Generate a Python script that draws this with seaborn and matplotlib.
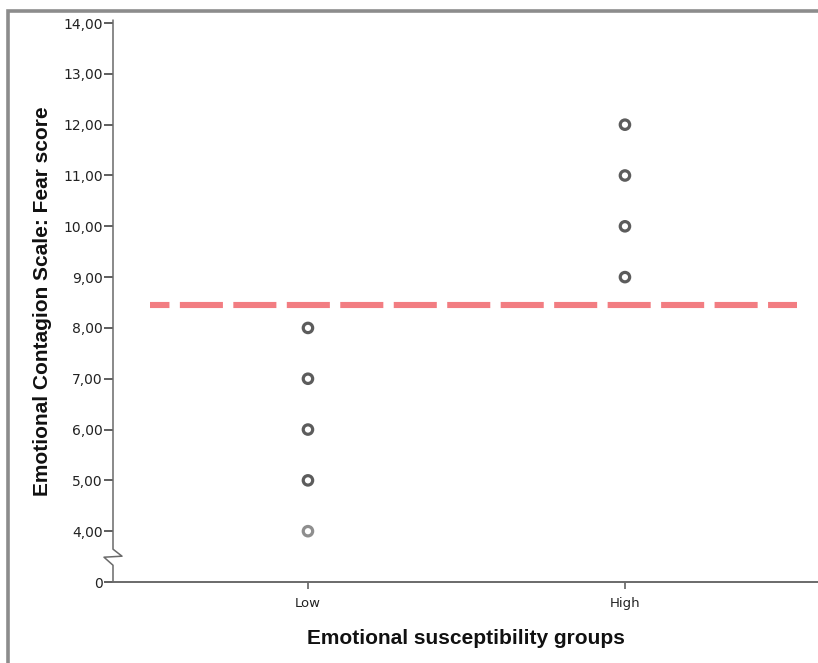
import matplotlib
matplotlib.use("Agg")
import matplotlib.pyplot as plt
import matplotlib.transforms as mtransforms
from matplotlib.patches import Rectangle
import numpy as np
import pandas as pd
import seaborn as sns

# Group labels and observed fear scores
groups = ["Low", "High"]
low_scores = [4, 5, 6, 7, 8]
high_scores = [9, 10, 11, 12]
# marker shade per point (lighter where fewer cases overlap)
low_shades = ["light", "dark", "dark", "dark", "dark"]
high_shades = ["dark", "dark", "dark", "dark"]
# cut-off between the groups
cutoff = 8.45

# y-axis ticks; the "0" tick sits just below 4 behind an axis break
ytick_values = [4, 5, 6, 7, 8, 9, 10, 11, 12, 13, 14]
ytick_labels = ["4,00", "5,00", "6,00", "7,00", "8,00", "9,00",
                "10,00", "11,00", "12,00", "13,00", "14,00"]
zero_pos = 3

df = pd.DataFrame({
    "group": ["Low"] * len(low_scores) + ["High"] * len(high_scores),
    "score": low_scores + high_scores,
    "shade": low_shades + high_shades,
})
df["xpos"] = df["group"].map({g: i for i, g in enumerate(groups)})

sns.set_theme(style="white")
plt.rcParams["font.family"] = ["DejaVu Sans"]
plt.rcParams["lines.scale_dashes"] = False

DPI = 100
W, H = 818, 663
fig = plt.figure(figsize=(W / DPI, H / DPI), dpi=DPI)
ax = fig.add_axes([113 / W, 1 - 582 / H, 1 - 113 / W, (582 - 20) / H])

sns.scatterplot(data=df, x="xpos", y="score", hue="shade",
                palette={"dark": "#5c5c5c", "light": "#8e8e8e"},
                s=46, linewidth=2.3, legend=False, ax=ax, zorder=3)
pts = ax.collections[0]
pts.set_edgecolors(pts.get_facecolors())
pts.set_facecolors("white")

ax.set_xlim(-0.615, 1.609)
ax.set_ylim(zero_pos, 14.06)

# dashed cut-off line
ax.plot([-0.498, 1.543], [cutoff, cutoff], color="#f27d82", lw=4.4,
        linestyle=(17, (31, 7.5)), solid_capstyle="butt", zorder=2)

# axes styling
for side in ["top", "right", "left"]:
    ax.spines[side].set_visible(False)
ax.spines["bottom"].set_color("#6a6a6a")
ax.spines["bottom"].set_linewidth(1.4)

ax.set_xticks(range(len(groups)))
ax.set_xticklabels(groups)
ax.set_yticks([zero_pos] + ytick_values)
ax.set_yticklabels(["0"] + ytick_labels)
ax.tick_params(axis="y", which="major", direction="out", length=6.5, width=1.1,
               color="#333333", pad=1, labelsize=10, labelcolor="#222222", left=True)
ax.tick_params(axis="x", which="major", direction="out", length=5, width=1.1,
               color="#555555", pad=6, labelsize=9.5, labelcolor="#222222", bottom=True)

# y-axis line with zigzag break between 0 and 4
trans = mtransforms.blended_transform_factory(ax.transAxes, ax.transData)
d = 9 / (W - 113)
ax.plot([0, 0, d, -d, 0, 0], [14.06, 3.646, 3.508, 3.488, 3.33, zero_pos],
        color="#6a6a6a", lw=1.1, transform=trans, clip_on=False, zorder=4)

ax.set_xlabel("Emotional susceptibility groups", fontsize=15, fontweight="bold",
              family=["Liberation Sans"], color="#111111")
ax.set_ylabel("Emotional Contagion Scale: Fear score", fontsize=15, fontweight="bold",
              family=["Liberation Sans"], color="#111111")
ax.xaxis.set_label_coords(0.5, (582 - 629) / 562)
ax.yaxis.set_label_coords((52 - 113) / (W - 113), 0.5)

# outer chart frame
fig.patches.append(Rectangle((8 / W, -0.2), 1.3, 1 - 11 / H + 0.2, fill=False,
                             edgecolor="#8c8c8c", linewidth=2.6,
                             transform=fig.transFigure, figure=fig))

fig.savefig("out.png", dpi=DPI)
